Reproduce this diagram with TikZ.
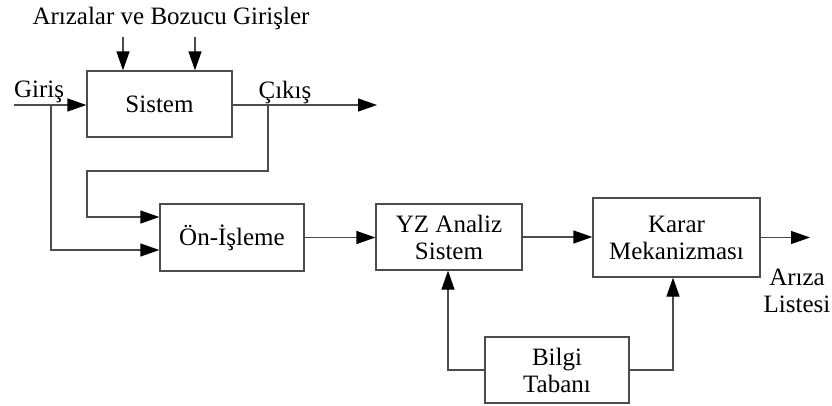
\documentclass[tikz,border=0pt]{standalone}
\usepackage{fontspec}
\setmainfont{Liberation Serif}
\usetikzlibrary{arrows.meta,calc}
\begin{document}
\begin{tikzpicture}[x=1pt,y=-1pt,
  every node/.style={font=\fontsize{25}{27}\selectfont, align=center, inner sep=0pt},
  blk/.style={draw=black!70, line width=1.3pt, minimum width=#1},
  link/.style={draw=black!70, line width=1.3pt},
  arr/.style={link, -{Triangle[length=19pt,width=13pt,fill=black,color=black]}}]
\useasboundingbox (0,0) rectangle (832,405);

% blocks
\node[blk=145pt, minimum height=66pt] (sis) at (159.5,104) {Sistem};
\node[blk=144pt, minimum height=67pt] (on) at (232,237.5) {Ön-İşleme};
\node[blk=146pt, minimum height=66pt] (yz) at (449,237) {YZ Analiz\\Sistem};
\node[blk=167pt, minimum height=79pt] (kar) at (676.5,237.5) {Karar\\Mekanizması};
\node[blk=144pt, minimum height=66pt] (bil) at (557,370) {Bilgi\\Tabanı};

% labels
\node (dist) at (171,18) {Arızalar ve Bozucu Girişler};
\node (girl) at (39,92) {Giriş};
\node (cikl) at (285,92) {Çıkış};
\node (ariza) at (797,291) {Arıza\\Listesi};

% free ends
\coordinate (in) at (14,105);
\coordinate (out) at (377,105);
\coordinate (d1) at (123,37);
\coordinate (d2) at (195,37);
\coordinate (res) at (810,237.5);

% system input, output and disturbances
\draw[arr] (in) -- (in -| sis.west);
\draw[arr] (sis.east |- out) -- (out);
\draw[arr] (d1) -- (d1 |- sis.north);
\draw[arr] (d2) -- (d2 |- sis.north);

% signals into pre-processing
\draw[arr] (51,105) -- (51,250) -- ($(on.west)+(0,12.5)$);
\draw[arr] (268,105) -- (268,171) -- (87,171) -- (87,217) -- ($(on.west)+(0,-20.5)$);

% processing chain
\draw[arr] (on.east) -- (on.east -| yz.west);
\draw[arr] (yz.east) -- (yz.east -| kar.west);
\draw[arr] (kar.east) -- (res);

% knowledge base feeds
\draw[arr] (bil.west) -| (448,0 |- yz.south);
\draw[arr] (bil.east) -| (673,0 |- kar.south);
\end{tikzpicture}
\end{document}
